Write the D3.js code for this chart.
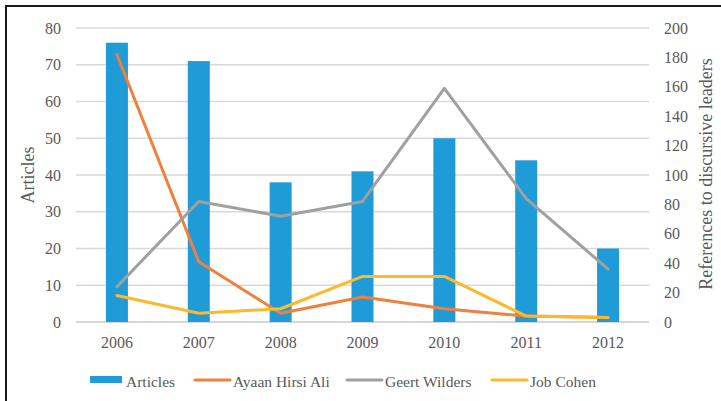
<!DOCTYPE html>
<html>
<head>
<meta charset="utf-8">
<script src="https://d3js.org/d3.v7.min.js"></script>
<style>
  body { margin: 0; background: #fff; }
  text { font-family: "Liberation Serif", "DejaVu Serif", serif; fill: #595959; }
</style>
</head>
<body>
<script>
var years = ['2006', '2007', '2008', '2009', '2010', '2011', '2012'];
var articles = [76, 71, 38, 41, 50, 44, 20];
var ayaan = [182, 41, 6, 17, 9, 4, 3];
var geert = [24, 82, 72, 82, 159, 84, 36];
var cohen = [18, 6, 9, 31, 31, 4, 3];
var leftTicks = [0, 10, 20, 30, 40, 50, 60, 70, 80];
var rightTicks = [0, 20, 40, 60, 80, 100, 120, 140, 160, 180, 200];

var width = 721, height = 401;
var margin = { top: 28, right: 72, bottom: 79, left: 76 };

var svg = d3.select('body').append('svg')
  .attr('width', width).attr('height', height);

// black frame, only left and top visible
svg.append('path').attr('d', 'M6,401V6H721')
  .attr('fill', 'none').attr('stroke', '#1a1a1a').attr('stroke-width', 2);

var x = d3.scaleBand().domain(years).range([margin.left, width - margin.right]);
var yL = d3.scaleLinear().domain([0, 80]).range([height - margin.bottom, margin.top]);
var yR = d3.scaleLinear().domain([0, 200]).range([height - margin.bottom, margin.top]);

// gridlines
svg.append('g').selectAll('line').data(leftTicks).enter().append('line')
  .attr('x1', margin.left).attr('x2', width - margin.right)
  .attr('y1', function(d) { return yL(d); }).attr('y2', function(d) { return yL(d); })
  .attr('stroke', function(d) { return d === 0 ? '#c8c8c8' : '#d9d9d9'; })
  .attr('stroke-width', 1.5);

var leftAxis = svg.append('g')
  .attr('transform', 'translate(' + (margin.left - 15) + ',0)')
  .call(d3.axisLeft(yL).tickValues(leftTicks).tickSize(0).tickPadding(0));
var rightAxis = svg.append('g')
  .attr('transform', 'translate(' + (width - margin.right + 15) + ',0)')
  .call(d3.axisRight(yR).tickValues(rightTicks).tickSize(0).tickPadding(0));
var bottomAxis = svg.append('g')
  .attr('transform', 'translate(0,' + (height - margin.bottom + 12) + ')')
  .call(d3.axisBottom(x).tickSize(0).tickPadding(0));
[leftAxis, rightAxis, bottomAxis].forEach(function(a) {
  a.select('.domain').remove();
  a.selectAll('text').style('font-family', null).attr('font-size', 16).attr('fill', '#595959');
});
bottomAxis.selectAll('text').attr('dy', '0.85em');

svg.append('text').attr('transform', 'translate(34,175) rotate(-90)')
  .attr('text-anchor', 'middle').attr('font-size', 18).text('Articles');
svg.append('text').attr('transform', 'translate(712,174) rotate(-90)')
  .attr('text-anchor', 'middle').attr('font-size', 18).text('References to discursive leaders');

// bars
var barW = 22;
svg.append('g').selectAll('rect').data(articles).enter().append('rect')
  .attr('x', function(d, i) { return x(years[i]) + x.bandwidth() / 2 - barW / 2; })
  .attr('y', function(d) { return yL(d); })
  .attr('width', barW)
  .attr('height', function(d) { return yL(0) - yL(d); })
  .attr('fill', '#1f9bd7');

var line = d3.line()
  .x(function(d, i) { return x(years[i]) + x.bandwidth() / 2; })
  .y(function(d) { return yR(d); });

var series = [
  { name: 'Ayaan Hirsi Ali', values: ayaan, color: '#f0803c' },
  { name: 'Geert Wilders', values: geert, color: '#a0a0a0' },
  { name: 'Job Cohen', values: cohen, color: '#fdb92c' }
];
svg.append('g').selectAll('path').data(series).enter().append('path')
  .attr('d', function(d) { return line(d.values); })
  .attr('fill', 'none').attr('stroke', function(d) { return d.color; })
  .attr('stroke-width', 3).attr('stroke-linejoin', 'round').attr('stroke-linecap', 'round');

// legend
var legend = [
  { name: 'Articles', color: '#1f9bd7', x: 90, bar: true },
  { name: 'Ayaan Hirsi Ali', color: '#f0803c', x: 195 },
  { name: 'Geert Wilders', color: '#a0a0a0', x: 347 },
  { name: 'Job Cohen', color: '#fdb92c', x: 492 }
];
var lg = svg.append('g').selectAll('g').data(legend).enter().append('g');
lg.each(function(d) {
  var g = d3.select(this);
  if (d.bar) {
    g.append('rect').attr('x', d.x).attr('y', 376).attr('width', 32).attr('height', 7).attr('fill', d.color);
  } else {
    g.append('line').attr('x1', d.x).attr('x2', d.x + 35).attr('y1', 380).attr('y2', 380)
      .attr('stroke', d.color).attr('stroke-width', 3).attr('stroke-linecap', 'round');
  }
  g.append('text').attr('x', d.x + (d.bar ? 36 : 38)).attr('y', 387)
    .attr('font-size', 15.5).text(d.name);
});
</script>
</body>
</html>
